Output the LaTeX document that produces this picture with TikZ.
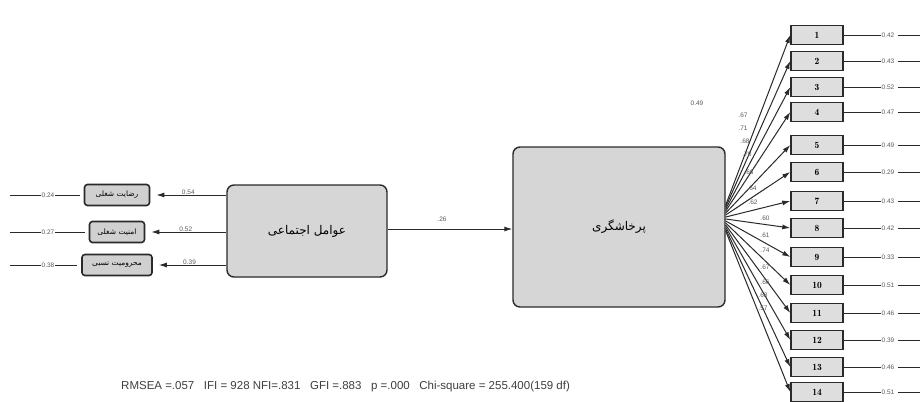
\documentclass[tikz,border=0pt]{standalone}
\usepackage{fontspec}
\setmainfont{Liberation Sans}
\newfontfamily\arabicfont[Script=Arabic]{DejaVu Sans}
\TeXXeTstate=1
\usetikzlibrary{arrows.meta}
\definecolor{boxfill}{HTML}{D6D6D6}
\definecolor{smallfill}{HTML}{D0D0D0}
\definecolor{indfill}{HTML}{DEDEDE}
\definecolor{linec}{HTML}{2A2A2A}
\definecolor{numc}{HTML}{5A5A5A}
\tikzset{
  bigbox/.style={draw=linec, line width=1.4pt, fill=boxfill, rounded corners=7pt, inner sep=0pt},
  smallbox/.style={draw=linec, line width=1.6pt, fill=smallfill, rounded corners=3pt, inner sep=0pt, minimum height=21pt, font=\arabicfont\fontsize{7.5}{8}\selectfont},
  indbox/.style={draw=linec, line width=1.4pt, fill=indfill, inner sep=0pt, minimum width=52pt, minimum height=19pt, font=\fontfamily{lmr}\fontsize{9.5}{10}\selectfont\bfseries},
  numlab/.style={text=numc, font=\fontsize{6.5}{7}\selectfont, inner sep=0.5pt},
  conn/.style={draw=linec, line width=1pt},
  arr/.style={conn, -{Latex[length=8pt,width=5pt]}},
}
\begin{document}
\begin{tikzpicture}[x=1pt,y=-1pt]
\useasboundingbox (0,0) rectangle (922,402);
\fill[white] (0,0) rectangle (922,402);

% main latent boxes
\node[bigbox, minimum width=160pt, minimum height=92pt, font=\arabicfont\fontsize{12}{13}\selectfont] (soc) at (307,231) {\beginR عوامل اجتماعی\endR};
\node[bigbox, minimum width=212pt, minimum height=160pt, font=\arabicfont\fontsize{12}{13}\selectfont] (agg) at (619,227) {\beginR پرخاشگری\endR};

% left indicators
\node[smallbox, minimum width=65pt] (l1) at (117,195) {\beginR رضایت شغلی\endR};
\node[smallbox, minimum width=55pt] (l2) at (117,232) {\beginR امنیت شغلی\endR};
\node[smallbox, minimum width=70pt] (l3) at (117,265) {\beginR محرومیت نسبی\endR};

\foreach \i/\y/\lab/\err in {1/195/0.54/0.24, 2/232/0.52/0.27, 3/265/0.39/0.38}{
  \coordinate (s\i) at (soc.west |- 0,\y);
  \draw[arr, shorten >=6pt] (s\i) -- (l\i.east) node[midway, above, numlab, yshift=-1pt] {\lab};
  \node[numlab] (le\i) at (48,\y) {\err};
  \coordinate (lf\i) at (10,\y);
  \draw[conn] (l\i.west) ++(-4,0) -- (le\i.east);
  \draw[conn] (le\i.west) -- (lf\i);
}

% structural path
\coordinate (sm) at (soc.east |- 0,229);
\coordinate (am) at (agg.west |- 0,229);
\draw[arr] (sm) -- (am);
\node[numlab] (pl) at (442,219) {.26};
\node[numlab] (r2) at (697,103) {0.49};

% right indicators
\foreach \i/\y/\err/\ld/\lx/\ly in {
  1/35/0.42/.67/743/115, 2/61/0.43/.71/743/128, 3/87/0.52/.68/745/141,
  4/112/0.47/.70/747/154, 5/145/0.49/.66/749/172, 6/172/0.29/.64/752/188,
  7/201/0.43/.62/753/202, 8/228/0.42/.60/765/218, 9/257/0.33/.61/765/235,
  10/285/0.51/.74/765/250, 11/313/0.46/.67/765/267, 12/340/0.39/.66/765/282,
  13/367/0.46/.68/763/295, 14/392/0.51/.57/763/308}{
  \node[indbox] (r\i) at (817,\y) {\i};
  \pgfmathsetmacro{\oy}{205+(\i-1)*2}
  \coordinate (o\i) at (agg.east |- 0,\oy);
  \draw[arr] (o\i) -- (r\i.west);
  \node[numlab] (ll\i) at (\lx,\ly) {\ld};
  \node[numlab] (re\i) at (888,\y) {\err};
  \coordinate (rf\i) at (920,\y);
  \draw[conn] (r\i.east) -- (re\i.west);
  \draw[conn] (re\i.east) ++(3,0) -- (rf\i);
}

% fit indices
\node[text=numc!70!black, font=\fontsize{11.5}{13}\selectfont, anchor=west, inner sep=0pt] (fit) at (121,387)
  {RMSEA =.057\ \ \ IFI = 928 NFI=.831\ \ \ GFI =.883\ \ \ p =.000\ \ \ Chi-square = 255.400(159 df)};
\end{tikzpicture}
\end{document}
